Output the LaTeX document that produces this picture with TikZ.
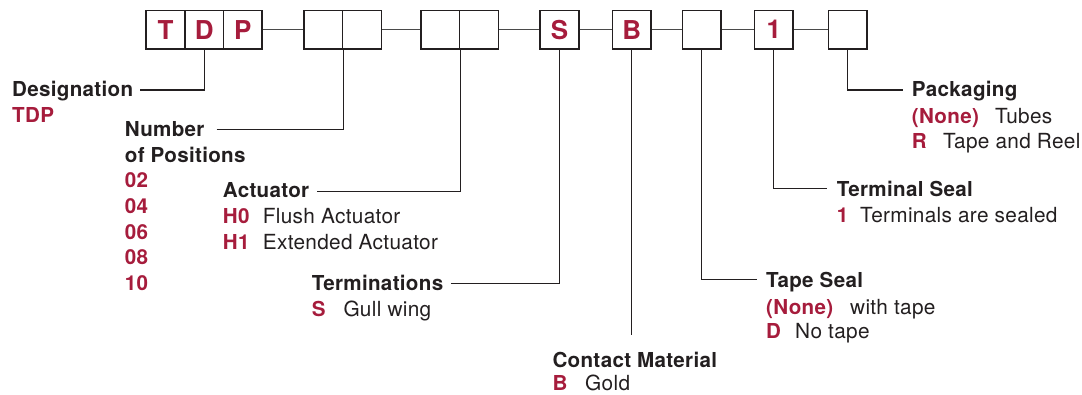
\documentclass[tikz,border=0pt]{standalone}
\usepackage{fontspec}
\setmainfont{TeX Gyre Heros}[LetterSpace=1.5]
\definecolor{pnred}{HTML}{A61C3C}
\definecolor{pnink}{HTML}{231F20}
\definecolor{pnline}{HTML}{4A4A4A}
\begin{document}
\begin{tikzpicture}[x=1pt,y=-1pt,
  cell/.style={draw=pnink,line width=1.4pt,minimum width=38.7pt,minimum height=38.7pt,inner sep=0pt,
    font=\fontsize{26}{30}\selectfont\bfseries,text=pnred},
  head/.style={anchor=base west,inner sep=0pt,font=\fontsize{20.6}{24}\selectfont\bfseries,text=pnink},
  code/.style={anchor=base west,inner sep=0pt,font=\fontsize{20.6}{24}\selectfont\bfseries,text=pnred},
  desc/.style={anchor=base west,inner sep=0pt,font=\fontsize{20.8}{24}\selectfont,text=pnink},
  link/.style={draw=pnline,line width=1.2pt},
  lead/.style={draw=pnink,line width=1.1pt}]
\useasboundingbox (0,0) rectangle (1082,394);
% top boxes
\node[cell] (cT) at (165.5,29.7) {T};
\node[cell] (cD) at (204.2,29.7) {D};
\node[cell] (cP) at (242.8,29.7) {P};
\node[cell] (c2a) at (323.2,29.7) {};
\node[cell] (c2b) at (362,29.7) {};
\node[cell] (c3a) at (440.3,29.7) {};
\node[cell] (c3b) at (479,29.7) {};
\node[cell] (cS) at (559.5,29.7) {S};
\node[cell] (cB) at (631.7,29.7) {B};
\node[cell] (cE) at (701.7,29.7) {};
\node[cell] (c1) at (773.8,29.7) {1};
\node[cell] (cR) at (847.7,29.7) {};
\draw[link] (cP.east) -- (c2a.west);
\draw[link] (c2b.east) -- (c3a.west);
\draw[link] (c3b.east) -- (cS.west);
\draw[link] (cS.east) -- (cB.west);
\draw[link] (cB.east) -- (cE.west);
\draw[link] (cE.east) -- (c1.west);
\draw[link] (c1.east) -- (cR.west);
% Designation
\node[head] (desig) at (12,96.7) {Designation};
\node[code] (desigv) at (12,122.7) {TDP};
% Number of positions
\node[head] (npos1) at (124.7,136.7) {Number};
\node[head] (npos2) at (124.7,162.3) {of Positions};
\node[code] (n02) at (124.7,187.7) {02};
\node[code] (n04) at (124.7,213.3) {04};
\node[code] (n06) at (124.7,239) {06};
\node[code] (n08) at (124.7,264.3) {08};
\node[code] (n10) at (124.7,290) {10};
% Actuator
\node[head] (act) at (222.7,197.3) {Actuator};
\node[code] (h0) at (222.7,223.3) {H0};
\node[desc] (h0d) at (262.7,223.3) {Flush Actuator};
\node[code] (h1) at (222.7,249) {H1};
\node[desc] (h1d) at (262.7,249) {Extended Actuator};
% Terminations
\node[head] (term) at (311.7,290) {Terminations};
\node[code] (tS) at (311.7,316.7) {S};
\node[desc] (tSd) at (343.3,316.7) {Gull wing};
% Contact material
\node[head] (cmat) at (552.3,367.5) {Contact Material};
\node[code] (cmB) at (552.3,390.3) {B};
\node[desc] (cmBd) at (585,390.3) {Gold};
% Packaging
\node[head] (pack) at (911.7,96.7) {Packaging};
\node[code] (pN) at (911.7,123.3) {(None)};
\node[desc] (pNd) at (995,123.3) {Tubes};
\node[code] (pR) at (911.7,148.3) {R};
\node[desc] (pRd) at (943,148.3) {Tape and Reel};
% Terminal seal
\node[head] (tseal) at (836.7,196.7) {Terminal Seal};
\node[code] (ts1) at (836.7,222.3) {1};
\node[desc] (ts1d) at (860,222.3) {Terminals are sealed};
% Tape seal
\node[head] (tape) at (766,287.7) {Tape Seal};
\node[code] (tpN) at (766,314) {(None)};
\node[desc] (tpNd) at (850,314) {with tape};
\node[code] (tpD) at (766,338.3) {D};
\node[desc] (tpDd) at (795,338.3) {No tape};
% leaders
\draw[lead] ([xshift=7pt,yshift=6.7pt]desig.base east) -| (cD.south);
\draw[lead] ([xshift=12pt,yshift=7.4pt]npos1.base east) -| (c2a.south east);
\draw[lead] ([xshift=8pt,yshift=5.8pt]act.base east) -| (c3a.south east);
\draw[lead] ([xshift=7.5pt,yshift=6.7pt]term.base east) -| (cS.south);
\coordinate (cmend) at (631.7,335);
\draw[lead] (cB.south) -- (cB.south |- cmend);
\draw[lead] (cE.south) |- ([xshift=-9pt,yshift=8pt]tape.base west);
\draw[lead] (c1.south) |- ([xshift=-9.5pt,yshift=8pt]tseal.base west);
\draw[lead] (cR.south) |- ([xshift=-8.7pt,yshift=6.7pt]pack.base west);
\end{tikzpicture}
\end{document}
